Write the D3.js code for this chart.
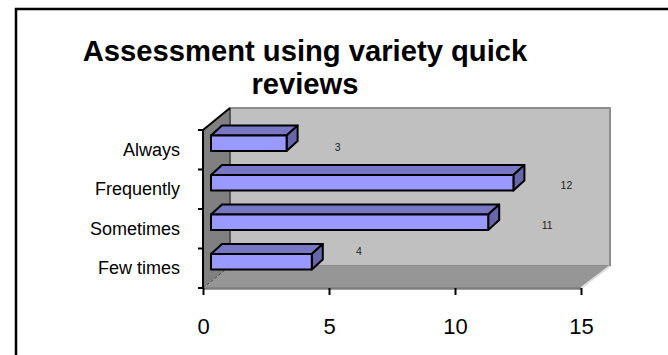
<!DOCTYPE html>
<html><head><meta charset="utf-8">
<script src="https://cdn.jsdelivr.net/npm/d3@7"></script>
<style>html,body{margin:0;padding:0;background:#fff}svg{display:block}text{font-family:"Liberation Sans",Arial,sans-serif}</style>
</head><body><svg id="c" width="668" height="355"></svg>
<script>
const categories = ["Few times","Sometimes","Frequently","Always"];
const values = [4,11,12,3];
const xTicks = [0,5,10,15];
const titleLines = ["Assessment using variety quick","reviews"];

const svg = d3.select("#c");
const x = d3.scaleLinear().domain([0,15]).range([203,581]);
const y = d3.scaleBand().domain(categories).range([288,130]);
const labelDx = d3.scaleOrdinal(categories).range([36,48,42,40]);
const labelBase = d3.scaleOrdinal(categories).range([6.5,20,19.5,21]);
const depth = {dx:27, dy:-22}, bar = {dx:11, dy:-10, inset:8, top:5.5, h:15.5};

// frame
svg.append("path").attr("d","M16 355V9H668").attr("fill","none").attr("stroke","#000").attr("stroke-width",2.5);

// walls
const x0=x(0), x1=x(15), yb=288, yt=130;
const poly=(pts,fill,stroke,sw)=>svg.append("polygon").attr("points",pts.map(p=>p.join(",")).join(" ")).attr("fill",fill).attr("stroke",stroke||"none").attr("stroke-width",sw||0).attr("stroke-linejoin","round");
poly([[x0+depth.dx,yt+depth.dy],[x1+depth.dx+2,yt+depth.dy],[x1+depth.dx+2,yb+depth.dy],[x0+depth.dx,yb+depth.dy]],"#c0c0c0","#8c8c8c",2);
poly([[x0,yb],[x1,yb],[x1+depth.dx+2,yb+depth.dy],[x0+depth.dx,yb+depth.dy]],"#969696");
poly([[x0,yt],[x0+depth.dx,yt+depth.dy],[x0+depth.dx,yb+depth.dy],[x0,yb]],"#808080");
svg.append("line").attr("x1",x0+depth.dx).attr("x2",x0+depth.dx).attr("y1",yt+depth.dy).attr("y2",yb+depth.dy).attr("stroke","#222").attr("stroke-width",1);
svg.append("line").attr("x1",x0).attr("y1",yb).attr("x2",x0+depth.dx).attr("y2",yb+depth.dy).attr("stroke","#444").attr("stroke-dasharray","3 2");
svg.append("line").attr("x1",x1).attr("y1",yb).attr("x2",x1+depth.dx+2).attr("y2",yb+depth.dy).attr("stroke","#ddd").attr("stroke-width",2);
svg.append("line").attr("x1",x0).attr("x2",x1).attr("y1",yb+.5).attr("y2",yb+.5).attr("stroke","#7d7d7d").attr("stroke-width",2.5);
svg.append("line").attr("x1",x0).attr("y1",yt).attr("x2",x0+depth.dx).attr("y2",yt+depth.dy).attr("stroke","#000").attr("stroke-width",2);
svg.append("line").attr("x1",x0).attr("x2",x0).attr("y1",yt).attr("y2",yb).attr("stroke","#000").attr("stroke-width",2);

// axes
const gx = svg.append("g").attr("transform",`translate(0,${yb})`).call(d3.axisBottom(x).tickValues(xTicks).tickSize(7).tickPadding(0));
gx.select(".domain").remove();
gx.selectAll("line").attr("stroke","#000").attr("stroke-width",2);
gx.selectAll("text").attr("dy",null).attr("y",46).attr("font-size",22).attr("fill","#000").style("font-family",'"Liberation Sans",Arial,sans-serif');

const ticksY = [...categories.map(c=>y(c)+y.step()),yt];
svg.selectAll(".ty").data(ticksY).join("line").attr("x1",x0-5).attr("x2",x0).attr("y1",d=>d).attr("y2",d=>d).attr("stroke","#000").attr("stroke-width",2);
svg.selectAll(".cat").data(categories).join("text").attr("x",180).attr("y",d=>y(d)+y.step()/2+6).attr("text-anchor","end").attr("font-size",18).attr("fill","#000").text(d=>d);

// bars
const rows = categories.map((c,i)=>({c,v:values[i]}));
rows.forEach(d=>{
  const l=x0+bar.inset, r=x(d.v)+bar.inset, t=y(d.c)+bar.top, b=t+bar.h;
  poly([[l,t],[l+bar.dx,t+bar.dy],[r+bar.dx,t+bar.dy],[r,t]],"#7777c4","#000",2);
  poly([[r,t],[r+bar.dx,t+bar.dy],[r+bar.dx,b+bar.dy],[r,b]],"#6666a8","#000",2);
  poly([[l,t],[r,t],[r,b],[l,b]],"#9999ff","#000",2);
  svg.append("text").attr("x",r+bar.dx+labelDx(d.c)).attr("y",y(d.c)+labelBase(d.c)).attr("text-anchor","middle").attr("font-size",10.5).attr("fill","#222").text(d.v);
});

// title
svg.selectAll(".t").data(titleLines).join("text").attr("x",305).attr("y",(d,i)=>i?94:61).attr("text-anchor","middle").attr("font-size",29.2).attr("font-weight","bold").attr("fill","#000").text(d=>d);
</script></body></html>
